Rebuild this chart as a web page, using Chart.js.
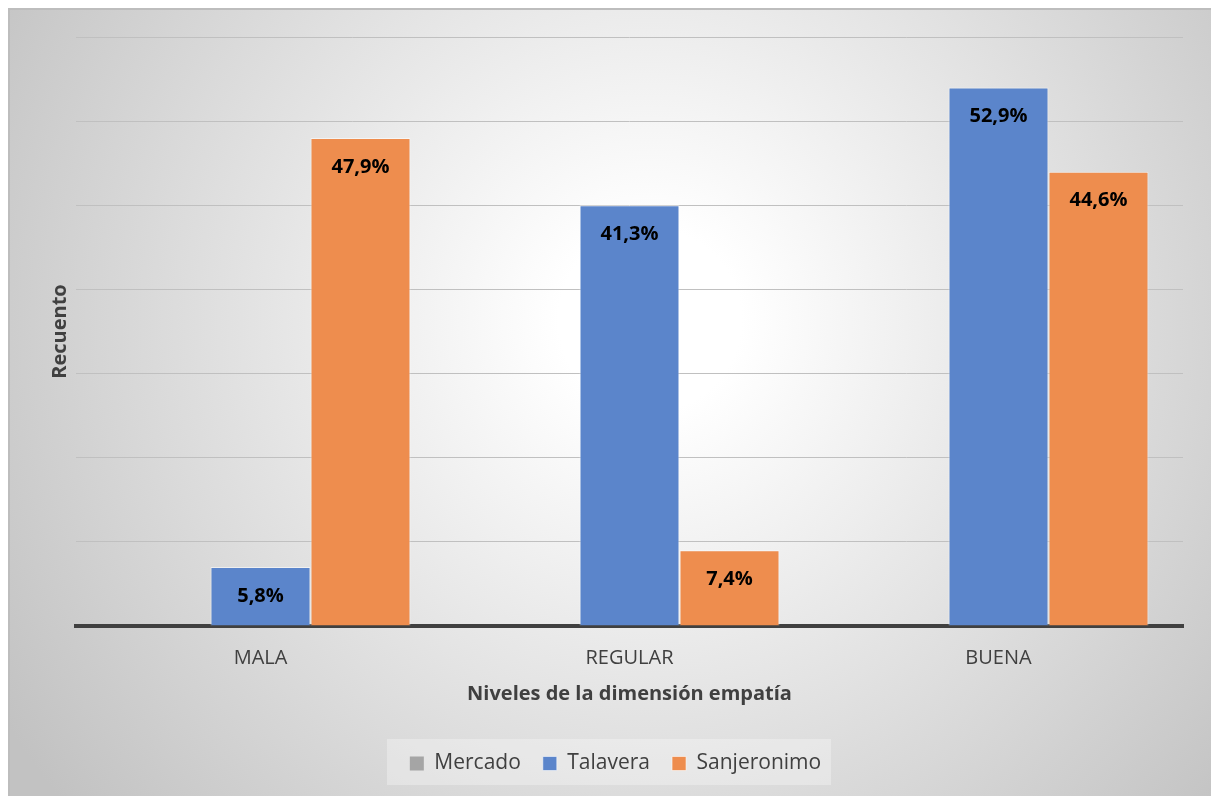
<!DOCTYPE html>
<html lang="es">
<head>
  <meta charset="UTF-8" />
  <title>Niveles de la dimensión empatía</title>
  <script src="https://cdn.jsdelivr.net/npm/chart.js"></script>
  <style>
    html, body {
      margin: 0;
      padding: 0;
      background: #ffffff;
    }
    #wrap {
      width: 1211px;
      height: 796px;
    }
  </style>
</head>
<body>
  <div id="wrap"><canvas id="chart"></canvas></div>

  <script>
    // categories and series (counts), with the percent labels shown on the bars
    const categories = ["MALA", "REGULAR", "BUENA"];
    const mercado = [0, 0, 0];
    const talavera = [7, 50, 64];
    const sanjeronimo = [58, 9, 54];
    const talaveraPct = ["5,8%", "41,3%", "52,9%"];
    const sanjeronimoPct = ["47,9%", "7,4%", "44,6%"];
    const mercadoPct = ["", "", ""];

    const fontFamily = "'Open Sans', 'Noto Sans', sans-serif";

    const backgroundPlugin = {
      id: "bg",
      beforeDraw(chart) {
        const ctx = chart.ctx;
        const w = chart.width, h = chart.height;
        ctx.save();
        ctx.fillStyle = "#ffffff";
        ctx.fillRect(0, 0, w, h);
        const g = ctx.createRadialGradient(650, 320, 0, 650, 320, 760);
        g.addColorStop(0, "#ffffff");
        g.addColorStop(0.12, "#ffffff");
        g.addColorStop(1, "#c2c2c2");
        ctx.fillStyle = g;
        ctx.fillRect(8, 8, w - 8, h - 8);
        ctx.strokeStyle = "#bdbdbd";
        ctx.lineWidth = 2;
        ctx.strokeRect(9, 9, w, h);
        // faint legend panel
        ctx.fillStyle = "rgba(255,255,255,0.3)";
        ctx.fillRect(387, 739, 444, 46);
        ctx.restore();
      }
    };

    const labelPlugin = {
      id: "barLabels",
      afterDatasetsDraw(chart) {
        const ctx = chart.ctx;
        const texts = [mercadoPct, talaveraPct, sanjeronimoPct];
        ctx.save();
        ctx.font = "bold 20px " + fontFamily;
        ctx.fillStyle = "#000000";
        ctx.textAlign = "center";
        ctx.textBaseline = "middle";
        chart.data.datasets.forEach((ds, i) => {
          const meta = chart.getDatasetMeta(i);
          meta.data.forEach((bar, j) => {
            const t = texts[i][j];
            if (!t) return;
            ctx.fillText(t, bar.x, bar.y + 29);
          });
        });
        ctx.restore();
      }
    };

    new Chart(document.getElementById("chart"), {
      type: "bar",
      data: {
        labels: categories,
        datasets: [
          {
            label: "Mercado",
            data: mercado,
            backgroundColor: "#a5a5a5",
            borderColor: "rgba(255,255,255,0.6)",
            borderWidth: 0
          },
          {
            label: "Talavera",
            data: talavera,
            backgroundColor: "#5b85cb",
            borderColor: "rgba(255,255,255,0.55)",
            borderWidth: 1
          },
          {
            label: "Sanjeronimo",
            data: sanjeronimo,
            backgroundColor: "#ee8d4e",
            borderColor: "rgba(255,255,255,0.55)",
            borderWidth: 1
          }
        ]
      },
      options: {
        responsive: true,
        maintainAspectRatio: false,
        animation: false,
        categoryPercentage: 0.813,
        barPercentage: 1,
        layout: {
          padding: { left: 48, right: 28, top: 37, bottom: 12 }
        },
        plugins: {
          legend: {
            position: "bottom",
            labels: {
              boxWidth: 14,
              boxHeight: 14,
              padding: 22,
              color: "#404040",
              font: { family: fontFamily, size: 21 }
            }
          },
          tooltip: { enabled: false }
        },
        scales: {
          x: {
            grid: { display: false },
            border: { color: "#404040", width: 4 },
            ticks: {
              color: "#404040",
              padding: 12,
              font: { family: fontFamily, size: 20 }
            },
            title: {
              display: true,
              text: "Niveles de la dimensión empatía",
              color: "#404040",
              padding: { top: 0, bottom: 25 },
              font: { family: fontFamily, size: 20, weight: "bold" }
            }
          },
          y: {
            min: 0,
            max: 70,
            ticks: { display: false, stepSize: 10 },
            grid: { color: "#c0c0c0", lineWidth: 1, drawTicks: false },
            border: { display: false },
            title: {
              display: true,
              text: "Recuento",
              color: "#404040",
              padding: { top: 0, bottom: 4 },
              font: { family: fontFamily, size: 20, weight: "bold" }
            }
          }
        }
      },
      plugins: [backgroundPlugin, labelPlugin]
    });
  </script>
</body>
</html>
